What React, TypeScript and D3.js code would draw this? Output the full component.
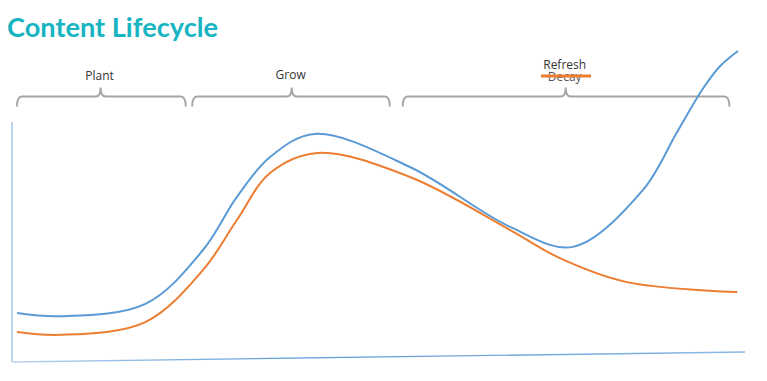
import React from "react";
import * as d3 from "d3";

const W = 767;
const H = 381;

// x positions (0..100 along timeline)
const blueX = [0, 6, 17.8, 25.8, 30.5, 35.1, 41.3, 54.5, 68.4, 77.1, 86.8, 91.5, 95.1, 97.5, 100];
const blueY = [15.7, 14.7, 18.6, 35.9, 52.9, 65.7, 73.1, 62.5, 43.3, 36.9, 55.1, 73.5, 87.5, 94.8, 99.7];

const orangeX = [0, 6, 17.8, 25.8, 30.5, 35.1, 41.7, 54.5, 68.4, 75.3, 84.6, 99.9];
const orangeY = [9.6, 8.7, 12.8, 29.5, 45.5, 60.6, 67.0, 59.3, 42.3, 33.3, 25.6, 22.4];

// phase braces: [start, end, center] in timeline units and labels
const phaseLabels = ["Plant", "Grow", "Decay"];
const phaseStart = [0, 24.3, 53.5];
const phaseEnd = [23.4, 51.7, 98.8];
const phaseCenter = [11.6, 38.1, 76.1];

export default function App() {
  const x = d3.scaleLinear().domain([0, 100]).range([17, 738]);
  const y = d3.scaleLinear().domain([0, 100]).range([362, 50]);

  const line = d3
    .line<[number, number]>()
    .x((d) => x(d[0]))
    .y((d) => y(d[1]))
    .curve(d3.curveCatmullRom.alpha(0.5));

  const blue = line(blueX.map((v, i) => [v, blueY[i]]));
  const orange = line(orangeX.map((v, i) => [v, orangeY[i]]));

  const braceY = 96.5;
  const brace = (a: number, b: number, c: number) => {
    const x1 = x(a), x2 = x(b), cx = x(c);
    const yb = braceY;
    return `M${x1},${yb + 10} Q${x1},${yb} ${x1 + 5},${yb} L${cx - 5},${yb} Q${cx},${yb} ${cx},${yb - 9} Q${cx},${yb} ${cx + 5},${yb} L${x2 - 5},${yb} Q${x2},${yb} ${x2},${yb + 10}`;
  };

  const font = "'Open Sans', 'Liberation Sans', sans-serif";

  return (
    <svg
      width={W}
      height={H}
      style={{ position: "absolute", left: 0, top: 0, background: "#fff" }}
    >
      <defs>
        <linearGradient id="axg" x1="0" x2="1" y1="0" y2="0">
          <stop offset="0" stopColor="#b9d3ee" />
          <stop offset="0.4" stopColor="#5b9bd5" />
          <stop offset="1" stopColor="#8db8e3" />
        </linearGradient>
      </defs>
      <text
        x={7}
        y={37}
        fontFamily="Lato, 'Open Sans', sans-serif"
        fontWeight="bold"
        fontSize={27}
        fill="#19b4c2"
        textLength={211}
        lengthAdjust="spacingAndGlyphs"
      >
        Content Lifecycle
      </text>

      {/* axes */}
      <line x1={12} y1={122} x2={12} y2={362} stroke="#8fb9e3" strokeWidth={1.2} />
      <line x1={12} y1={362} x2={745} y2={352} stroke="url(#axg)" strokeWidth={1.3} />

      {/* braces */}
      {phaseLabels.map((lab, i) => (
        <path
          key={lab}
          d={brace(phaseStart[i], phaseEnd[i], phaseCenter[i])}
          fill="none"
          stroke="#a6a6a6"
          strokeWidth={2}
        />
      ))}

      <text x={x(phaseCenter[0]) - 1} y={80} textAnchor="middle" fontFamily={font} fontSize={12} fill="#333">
        {phaseLabels[0]}
      </text>
      <text x={x(phaseCenter[1]) - 1} y={79} textAnchor="middle" fontFamily={font} fontSize={12} fill="#333">
        {phaseLabels[1]}
      </text>
      <text x={x(phaseCenter[2]) - 1} y={68.5} textAnchor="middle" fontFamily={font} fontSize={12} fill="#333">
        Refresh
      </text>
      <text x={x(phaseCenter[2]) - 1} y={80.5} textAnchor="middle" fontFamily={font} fontSize={12} fill="#555">
        {phaseLabels[2]}
      </text>
      <line x1={541} y1={76} x2={591} y2={76} stroke="#ed7d31" strokeWidth={3} />

      <path d={orange ?? ""} fill="none" stroke="#ed7d31" strokeWidth={2} />
      <path d={blue ?? ""} fill="none" stroke="#5b9bd5" strokeWidth={2} />
    </svg>
  );
}
